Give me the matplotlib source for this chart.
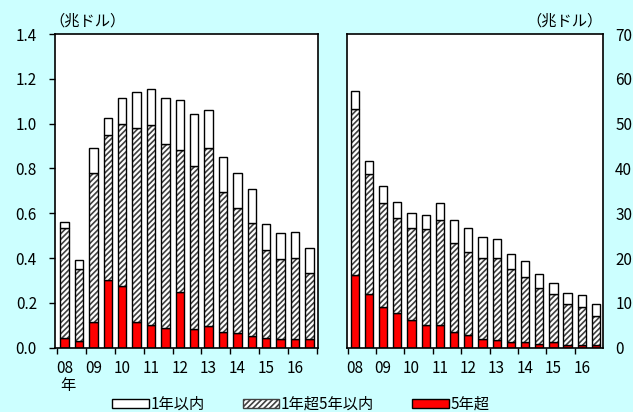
import numpy as np
import matplotlib
matplotlib.use("Agg")
import matplotlib.pyplot as plt
from matplotlib.patches import Patch

plt.rcParams['font.family'] = ['Noto Sans CJK JP', 'DejaVu Sans']
plt.rcParams['hatch.linewidth'] = 1.2

# 年ラベル（半期ごとのバー、2本ごとにラベル）
years = ['08', '09', '10', '11', '12', '13', '14', '15', '16']

# 左パネル（兆ドル）
left_over5 = [0.043, 0.031, 0.114, 0.300, 0.275, 0.114, 0.102, 0.089, 0.250,
              0.083, 0.097, 0.071, 0.063, 0.050, 0.044, 0.037, 0.037, 0.037]
left_mid = [0.492, 0.318, 0.666, 0.648, 0.725, 0.868, 0.890, 0.820, 0.633,
            0.726, 0.793, 0.625, 0.561, 0.508, 0.394, 0.357, 0.363, 0.297]
left_short = [0.026, 0.040, 0.110, 0.078, 0.116, 0.159, 0.161, 0.207, 0.221,
              0.235, 0.169, 0.156, 0.155, 0.151, 0.116, 0.116, 0.116, 0.109]

# 右パネル（兆ドル）
right_over5 = [16.25, 11.9, 9.0, 7.7, 6.1, 5.1, 5.1, 3.5, 2.9,
               1.9, 1.6, 1.2, 1.2, 0.9, 1.2, 0.6, 0.6, 0.6]
right_mid = [37.05, 26.9, 23.2, 21.3, 20.6, 21.3, 23.3, 19.8, 18.4,
             18.1, 18.4, 16.3, 14.6, 12.4, 10.7, 9.1, 8.5, 6.5]
right_short = [4.1, 2.8, 3.9, 3.5, 3.3, 3.3, 3.9, 5.1, 5.4,
               4.8, 4.2, 3.5, 3.6, 3.2, 2.6, 2.6, 2.6, 2.6]

labels = ['1年以内', '1年超5年以内', '5年超']
bg = '#ccffff'
red = '#ff0000'
hatch_col = '#404040'
fs = 11


def draw(ax, over5, mid, short, width):
    x = np.arange(len(over5))
    over5 = np.array(over5)
    mid = np.array(mid)
    short = np.array(short)
    ax.bar(x, over5, width, color=red, edgecolor='black', linewidth=1)
    # ハッチ部分（灰色の斜線）と黒枠を別々に描く
    ax.bar(x, mid, width, bottom=over5, color='white', edgecolor=hatch_col,
           hatch='//////', linewidth=0)
    ax.bar(x, mid, width, bottom=over5, fill=False, edgecolor='black', linewidth=1)
    ax.bar(x, short, width, bottom=over5 + mid, color='white',
           edgecolor='black', linewidth=1)
    ax.set_xticks(np.arange(0, len(over5), 2))
    ax.set_xticklabels(years, fontsize=fs)
    ax.set_xticks(np.arange(-0.5, len(over5), 2), minor=True)
    ax.tick_params(axis='x', which='major', length=0, pad=9)
    ax.tick_params(axis='x', which='minor', length=4, width=1, direction='out')
    for s in ax.spines.values():
        s.set_linewidth(1.2)


fig = plt.figure(figsize=(6.33, 4.12), dpi=100, facecolor=bg)

ax1 = fig.add_axes([0.0869, 0.1563, 0.415, 0.761])
draw(ax1, left_over5, left_mid, left_short, 0.58)
ax1.set_xlim(-0.67, 17.58)
ax1.set_ylim(0, 1.4)
ax1.set_yticks(np.arange(0, 1.41, 0.2))
ax1.set_yticklabels([f'{v:.1f}' for v in np.arange(0, 1.41, 0.2)], fontsize=fs)
ax1.tick_params(axis='y', length=4, width=1, direction='out', pad=9)
ax1.text(-0.02, 1.015, '（兆ドル）', transform=ax1.transAxes, fontsize=fs,
         ha='left', va='bottom')
ax1.text(0.05, -0.095, '年', transform=ax1.transAxes, fontsize=fs,
         ha='center', va='top')

ax2 = fig.add_axes([0.5477, 0.1563, 0.4044, 0.761])
draw(ax2, right_over5, right_mid, right_short, 0.58)
ax2.set_xlim(-0.56, 17.47)
ax2.set_ylim(0, 70)
ax2.yaxis.tick_right()
ax2.set_yticks(np.arange(0, 71, 10))
ax2.set_yticklabels([str(v) for v in range(0, 71, 10)], fontsize=fs)
ax2.tick_params(axis='y', length=0, pad=9)
ax2.text(1.0, 1.015, '（兆ドル）', transform=ax2.transAxes, fontsize=fs,
         ha='right', va='bottom')

handles = [
    Patch(facecolor='white', edgecolor='black', linewidth=1),
    Patch(facecolor='white', edgecolor=hatch_col, hatch='//////', linewidth=1),
    Patch(facecolor=red, edgecolor='black', linewidth=1),
]
fig.legend(handles, labels, loc='lower center', bbox_to_anchor=(0.475, -0.035),
           ncol=3, frameon=False, fontsize=fs, handlelength=2.4,
           handleheight=0.55, handletextpad=0.1, columnspacing=2.5)

fig.savefig('out.png', dpi=100, facecolor=bg)
